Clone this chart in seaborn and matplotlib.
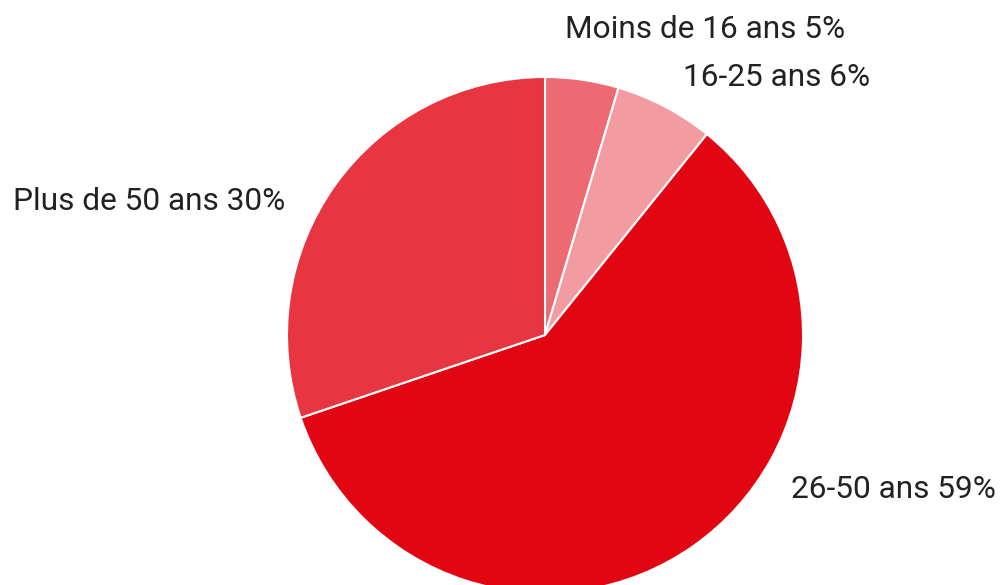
import matplotlib
matplotlib.use("Agg")
import matplotlib.pyplot as plt
import seaborn as sns

sns.set_theme(style="white")
plt.rcParams['font.family'] = ['Roboto', 'DejaVu Sans']

# Data
categories = ["Moins de 16 ans", "16-25 ans", "26-50 ans", "Plus de 50 ans"]
shares = [4.6, 6.2, 59.0, 30.2]
colors = ["#ee6a73", "#f29ca2", "#e20613", "#e73541"]

# label anchor points (pie radius = 1) and alignment
label_pos = [(0.076, 1.185, "left"), (0.534, 0.998, "left"),
             (0.955, -0.597, "left"), (-1.006, 0.518, "right")]

fig = plt.figure(figsize=(10.02, 5.85), dpi=100)
# axes sized so radius is ~258 px, center at (545, 335) px
r_px = 258
cx, cy = 545, 585 - 335
W, H = 1002, 585
ax = fig.add_axes([(cx - r_px) / W, (cy - r_px) / H, 2 * r_px / W, 2 * r_px / H])

ax.pie(shares, colors=colors, startangle=90, counterclock=False,
       wedgeprops=dict(edgecolor="white", linewidth=1.5), radius=1)
ax.set_xlim(-1, 1)
ax.set_ylim(-1, 1)
ax.set_aspect("equal")
ax.axis("off")

for cat, val, (x, y, ha) in zip(categories, shares, label_pos):
    ax.text(x, y, f"{cat} {round(val)}%", ha=ha, va="center",
            fontsize=22.8, color="#222222", clip_on=False)

fig.savefig("out.png", dpi=100)
